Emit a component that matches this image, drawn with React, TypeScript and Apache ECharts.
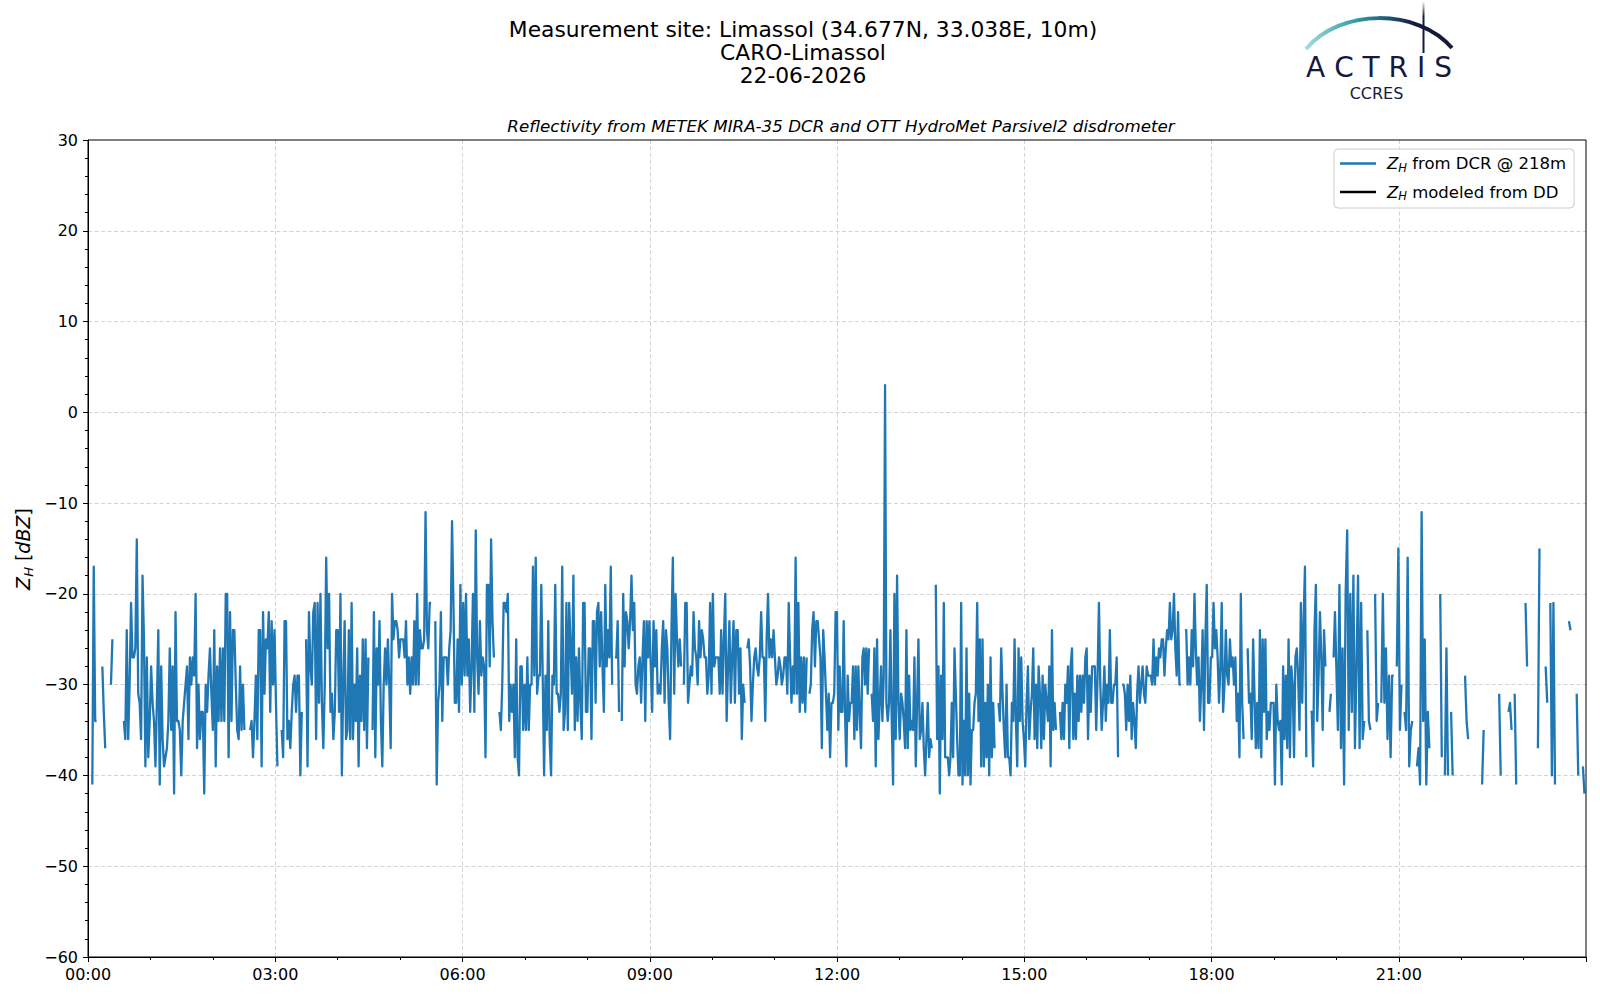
import React, { useEffect, useRef } from "react";
import * as echarts from "echarts";

const _ = null;

// Z_H from DCR @ 218m, each block spans 4 hours (values evenly spaced in the block)
const zh00to04 = [
  _, _, _, -41, -17, -34, -34, _, _, _,
  -28, -33, -37, _, _, _, -30, -25, _, _,
  _, _, _, _, _, -34, -36, -24, -36, -30,
  -21, -27, -27, -26, -14, -31, -32, -36, -18, -25,
  -39, -27, -38, -34, -28, -32, -34, -39, -32, -24,
  -41, -28, -36, -39, -38, -37, -34, -26, -35, -28,
  -42, -22, -34, -34, -35, -40, -34, -32, -30, -28,
  -36, -27, -30, -27, -29, -20, -37, -30, -36, -33,
  -33, -42, -30, -33, -29, -26, -31, -35, -24, -39,
  -28, -34, -26, -34, -26, -34, -20, -20, -38, -22,
  -34, -24, -24, -30, -35, -36, -28, -35, -30, -35,
  _, _, _, -35, -34, -38, -34, -29, -36, -24,
  -24, -39, -22, -31, -25, -26, -22, -33, -23, -30,
  -24, -32, -39, _, _, -35, -38, -23, -23, -36,
  -34, -37, -33, -30, -29, -33, -29, -29, -40, -33,
  _, _, -25, -39, -22, -28, -30, -22, -21, -36,
  -21, -32, -20, -32, -37, -30, -16, -26, -20, -33,
  -31, -36, -33, -24,
];

const zh04to08 = [
  -24, -33, -20, -40, -30, -23, -36, -35, -24, -36,
  -21, -36, -30, -34, -26, -39, -29, -34, -25, -35,
  -25, -37, -27, _, _, -35, -22, -38, -26, -30,
  -23, -34, -39, -30, -26, -30, -25, -30, -37, -20,
  -25, -23, -23, -24, -27, -25, -25, -25, -27, -23,
  -30, -27, -31, -27, -30, -23, -30, -20, -30, -24,
  -26, -26, -25, -11, -24, -26, -21, -21, _, _,
  -23, -41, -32, -30, -22, -34, -27, -27, -27, -30,
  -26, -24, -12, -21, -32, -32, -25, -33, -19, -30,
  -21, -29, -20, -29, -25, -33, -28, -20, -33, -13,
  -27, -31, -23, -29, -27, -28, -38, -19, -19, -28,
  -14, -23, -27, _, _, _, -33, -35, -30, -21,
  -21, -22, -20, -34, -30, -33, -30, -38, -25, -38,
  -40, -28, -28, -35, -30, -35, -27, -35, -30, -30,
  -17, -29, -16, -31, -29, -29, -19, -29, -40, -29,
  -35, -23, -36, -40, -29, -30, -19, -31, -31, -33,
  -31, -17, -35, -33, -21, -35, -21, -26, -31, -18,
  -35, -27, -34, -26, -32, -36, -21, -21, -33,
];

const zh08to12 = [
  -33, -26, -26, -36, -23, -23, -32, -22, -21, -28,
  -22, -28, -33, -19, -28, -24, -27, -17, -30, _,
  -27, -27, -23, -33, _, -34, -20, -28, -22, -23,
  -26, -23, -18, -24, -21, -30, -31, -28, -27, -32,
  -27, -23, -34, -23, -27, -23, -28, -33, -23, -28,
  -24, -31, -30, -31, -26, -23, -32, -24, -26, -32,
  -36, -24, -16, -31, -20, -25, -28, -25, -28, _,
  -30, -21, -21, -32, -30, -28, -29, -22, -26, -27,
  -30, -23, -27, -24, -25, -27, -27, -31, -29, -21,
  -31, -20, -28, -27, -27, -27, -31, -24, -31, -25,
  -20, -34, -28, -23, -32, -27, -23, -32, -24, -24,
  -31, -26, -36, -30, -32, _, -26, -25, -28, -34,
  -30, -27, -26, -28, -29, -27, -22, -27, -27, -34,
  -25, -20, -27, -25, -27, -24, -27, -30, -29, -27,
  -28, -30, -29, -27, -27, -31, -21, -27, -32, -28,
  -31, -16, -31, -21, -33, -27, -32, -27, -33, -27,
  _, -31, -30, -24, -22, -28, -23, -23, -25, -27,
  -37, -24, -27, -31, -35, -31, -38, -32, -32, -31,
  -22,
];

const zh12to16 = [
  -22, -35, -28, -33, -33, -23, -33, -39, -29, -34,
  -32, -32, -28, -36, -28, -35, -28, -33, -37, -27,
  -26, -30, -26, -31, -26, _, -31, -34, -26, -39,
  -25, -36, -32, -28, -34, -29, 3, -32, -34, -32,
  -24, -34, -41, -20, -36, -18, -32, -36, -31, -32,
  -34, -37, -24, -37, -29, -35, -34, -35, -27, -39,
  -32, -25, -36, -35, -32, -37, -40, -36, -32, -38,
  -36, -37, _, _, -19, -36, -28, -42, -29, -36,
  -21, -38, -38, -38, -40, -38, -32, -38, -26, -31,
  -36, -40, -40, -21, -41, -34, -40, -26, -40, -31,
  -41, -35, -35, -32, -31, -21, -34, -25, -39, -25,
  -39, -32, -38, -30, -40, -27, -38, -32, -37, _,
  _, -32, -34, -26, -31, -35, -38, -30, -38, -38,
  -40, -32, -34, -25, -34, -39, -26, -34, -27, -34,
  -36, -39, -32, -28, -36, -33, -31, -26, -36, -30,
  -37, -28, -31, -37, -29, -36, -30, -32, -34, -28,
  -39, -24, -35, -32, -35, _, _, -33, -36, -32,
  -36, -30, -32, -28, -37, -28, -26, -36, -31, -36,
  -29, -34, -29, -33, -29, -32, -27,
];

const zh16to20 = [
  -26, -36, -29, -33, -28, -28, -28, -35, -29, -21,
  -30, -35, -32, -28, -34, -30, -32, -24, -32, -32,
  -30, -30, -27, -38, _, _, -30, -30, -31, -35,
  -30, -34, -29, -36, -32, -34, -37, -31, -28, -32,
  -30, -28, -31, -32, -28, -29, -29, -29, -30, -25,
  -30, -27, -29, -26, -27, -25, -25, -29, -26, -24,
  -25, -21, -25, -24, -20, -26, -29, -22, -30, -30,
  _, _, -24, -24, -30, -27, -30, -24, -28, -20,
  -26, -30, -27, -34, -30, -24, -35, -25, -19, -32,
  -32, -27, -27, -21, -26, -24, -27, -32, -28, -21,
  -33, -30, -24, -29, -30, -25, -28, -27, -30, -27,
  -34, -31, -38, -20, -32, -36, _, _, -26, -32,
  -31, -36, -25, -31, -37, -32, -37, -24, -38, -25,
  -33, -25, -36, -33, -35, -32, -32, -32, -41, -30,
  -34, -35, -34, -41, -28, -36, -29, -37, -25, -38,
  -28, -30, -38, -27, -26, -29, -35, -21, -32, -23,
  -17, -38, _, _, -33, -33, -39, -24, -19, -34,
  -29, -22, -27, -35, -24, -28, _, _, -33, -31,
  _, -27, -22,
];

const zh20to24 = [
  -28, -35, -19, -37, -26, -41, -20, -13, -35, -20,
  -33, -18, -37, -28, -18, -37, -21, -36, -34, _,
  -24, -34, -35, _, _, -20, -34, -32, _, -32,
  -20, -32, -26, -36, -29, -38, -29, -29, _, -28,
  -15, -35, -30, _, -33, -35, -16, -39, -35, -34,
  _, _, -39, -37, -41, -11, -34, -25, -41, -33,
  -37, _, _, _, _, _, _, -20, -38, _,
  -40, -26, -40, _, -33, -40, _, _, _, _,
  _, _, _, -29, -34, -36, _, _, _, _,
  _, _, _, _, -41, -35, _, _, _, _,
  _, _, _, _, _, -31, -40, _, _, _,
  _, -33, -32, -35, _, -31, -41, _, _, _,
  _, _, -21, -28, _, _, _, _, _, _,
  -37, -15, _, _, _, -28, -32, _, -21, -40,
  -21, -41, _, _, _, _, _, _, _, _,
  -23, -24, _, _, _, -31, -40, _, _, -39,
  -42,
];

// Z_H modeled from DD: no data on this day
const zhModeled: number[][] = [];

const xTickHours = [0, 3, 6, 9, 12, 15, 18, 21];
const yTicks = [-60, -50, -40, -30, -20, -10, 0, 10, 20, 30];
const titleLines = [
  "Measurement site: Limassol (34.677N, 33.038E, 10m)",
  "CARO-Limassol",
  "22-06-2026",
];

const blocks = [zh00to04, zh04to08, zh08to12, zh12to16, zh16to20, zh20to24];

function buildDcr() {
  const out: any[] = [];
  blocks.forEach((vals, b) => {
    vals.forEach((v, i) => {
      out.push([b * 4 + (i * 4) / vals.length, v === null ? "-" : v]);
    });
  });
  return out;
}

const FONT = "DejaVu Sans";
const NAVY = "#151a3c";

export default function App() {
  const ref = useRef<HTMLDivElement>(null);

  useEffect(() => {
    if (!ref.current) return;
    const chart = echarts.init(ref.current, null, { renderer: "svg" });
    const fmtNum = (v: number) => (v < 0 ? "\u2212" + Math.abs(v) : String(v));
    const tickColor = "#000";
    const gridLine = {
      show: true,
      showMinLine: false,
      showMaxLine: false,
      lineStyle: { color: "#d3d3d3", type: [4, 2.5], width: 1 },
    };
    const option: any = {
      animation: false,
      backgroundColor: "#fff",
      grid: {
        left: 88,
        right: 14,
        top: 140,
        bottom: 43,
        show: true,
        borderColor: "#000",
        borderWidth: 1,
        backgroundColor: "transparent",
        z: 5,
      },
      xAxis: {
        type: "value",
        min: 0,
        max: 24,
        interval: 3,
        axisLine: { show: true, onZero: false, lineStyle: { color: tickColor, width: 1 } },
        axisTick: { show: true, length: 5, lineStyle: { color: tickColor, width: 1 } },
        minorTick: { show: true, splitNumber: 3, length: 3, lineStyle: { color: tickColor, width: 1 } },
        splitLine: gridLine,
        axisLabel: {
          margin: 9,
          fontFamily: FONT,
          fontSize: 16,
          color: "#000",
          formatter: (v: number) =>
            xTickHours.includes(v) ? String(v).padStart(2, "0") + ":00" : "",
        },
      },
      yAxis: {
        type: "value",
        min: yTicks[0],
        max: yTicks[yTicks.length - 1],
        interval: 10,
        axisLine: { show: true, lineStyle: { color: tickColor, width: 1 } },
        axisTick: { show: true, length: 5, lineStyle: { color: tickColor, width: 1 } },
        minorTick: { show: true, splitNumber: 5, length: 3, lineStyle: { color: tickColor, width: 1 } },
        splitLine: gridLine,
        axisLabel: {
          margin: 10,
          fontFamily: FONT,
          fontSize: 16,
          color: "#000",
          formatter: (v: number) => fmtNum(v),
        },
      },
      legend: {
        orient: "vertical",
        left: 1334,
        top: 149,
        icon: "rect",
        itemWidth: 36,
        itemHeight: 2.5,
        itemGap: 10,
        padding: [6, 8, 6, 6],
        backgroundColor: "rgba(255,255,255,0.85)",
        borderColor: "#cccccc",
        borderWidth: 1,
        borderRadius: 4,
        data: ["dcr", "dd"],
        formatter: (name: string) =>
          name === "dcr"
            ? "{sp|}{z|Z}{h|H}{t| from DCR @ 218m}"
            : "{sp|}{z|Z}{h|H}{t| modeled from DD}",
        textStyle: {
          fontFamily: FONT,
          fontSize: 16.5,
          color: "#000",
          rich: {
            sp: { width: 6 },
            z: { fontFamily: FONT, fontSize: 16.5, fontStyle: "italic", color: "#000", lineHeight: 20 },
            h: { fontFamily: FONT, fontSize: 11.5, fontStyle: "italic", color: "#000", verticalAlign: "bottom", lineHeight: 20, padding: [6, 0, 0, 0] },
            t: { fontFamily: FONT, fontSize: 16.5, color: "#000", lineHeight: 20 },
          },
        },
      },
      series: [
        {
          name: "dcr",
          type: "line",
          data: buildDcr(),
          symbol: "none",
          showSymbol: false,
          connectNulls: false,
          lineStyle: { color: "#1f77b4", width: 2.3, join: "round" },
          itemStyle: { color: "#1f77b4" },
          z: 3,
        },
        {
          name: "dd",
          type: "line",
          data: zhModeled,
          symbol: "none",
          showSymbol: false,
          lineStyle: { color: "#000", width: 2 },
          itemStyle: { color: "#000" },
        },
      ],
      graphic: [
        {
          type: "text",
          x: 803,
          y: 52.5,
          style: {
            text: titleLines.join("\n"),
            fontFamily: FONT,
            fontSize: 21.8,
            lineHeight: 22.8,
            fill: "#000",
            textAlign: "center",
            textVerticalAlign: "middle",
          },
        },
        {
          type: "text",
          x: 841,
          y: 126,
          style: { text: "Reflectivity from METEK MIRA-35 DCR and OTT HydroMet Parsivel2 disdrometer", fontFamily: FONT, fontSize: 16.7, fontStyle: "italic", fill: "#000", textAlign: "center", textVerticalAlign: "middle" },
        },
        {
          type: "text",
          x: 23,
          y: 549,
          rotation: Math.PI / 2,
          style: {
            text: "{z|Z}{h|H}{t| [}{i|dBZ}{t|]}",
            fontFamily: FONT,
            fontSize: 19,
            fill: "#000",
            textAlign: "center",
            textVerticalAlign: "middle",
            rich: {
              z: { fontFamily: FONT, fontSize: 19, fontStyle: "italic", fill: "#000", lineHeight: 24 },
              h: { fontFamily: FONT, fontSize: 13, fontStyle: "italic", fill: "#000", verticalAlign: "bottom", lineHeight: 24, padding: [7, 0, 0, 0] },
              t: { fontFamily: FONT, fontSize: 19, fill: "#000", lineHeight: 24 },
              i: { fontFamily: FONT, fontSize: 19, fontStyle: "italic", fill: "#000", lineHeight: 24 },
            },
          },
        },
        // ACTRIS logo
        {
          type: "bezierCurve",
          shape: { x1: 1306, y1: 49, cpx1: 1340, cpy1: 8, cpx2: 1418, cpy2: 8, x2: 1452, y2: 48 },
          style: {
            fill: "none",
            lineWidth: 4,
            stroke: {
              type: "linear",
              x: 1306, y: 0, x2: 1452, y2: 0,
              global: true,
              colorStops: [
                { offset: 0, color: "#a6dadb" },
                { offset: 0.3, color: "#3aa7ad" },
                { offset: 0.55, color: "#1e5d78" },
                { offset: 0.75, color: NAVY },
                { offset: 1, color: NAVY },
              ],
            },
          },
        },
        {
          type: "rect",
          shape: { x: 1422.5, y: 1, width: 2, height: 52 },
          style: {
            fill: {
              type: "linear",
              x: 0, y: 0, x2: 0, y2: 1,
              colorStops: [
                { offset: 0, color: "#ffffff" },
                { offset: 0.3, color: NAVY },
                { offset: 1, color: NAVY },
              ],
            },
          },
        },
        {
          type: "text",
          x: 1379,
          y: 67.5,
          style: { text: "A C T R I S", fontFamily: FONT, fontSize: 28, fontWeight: "normal", fill: NAVY, textAlign: "center", textVerticalAlign: "middle" },
        },
        {
          type: "text",
          x: 1376.5,
          y: 93,
          style: { text: "CCRES", fontFamily: FONT, fontSize: 16, fill: NAVY, textAlign: "center", textVerticalAlign: "middle" },
        },
      ],
    };
    chart.setOption(option);
    return () => chart.dispose();
  }, []);

  return (
    <div
      ref={ref}
      style={{ position: "fixed", left: 0, top: 0, width: 1600, height: 1000, background: "#fff" }}
    />
  );
}
